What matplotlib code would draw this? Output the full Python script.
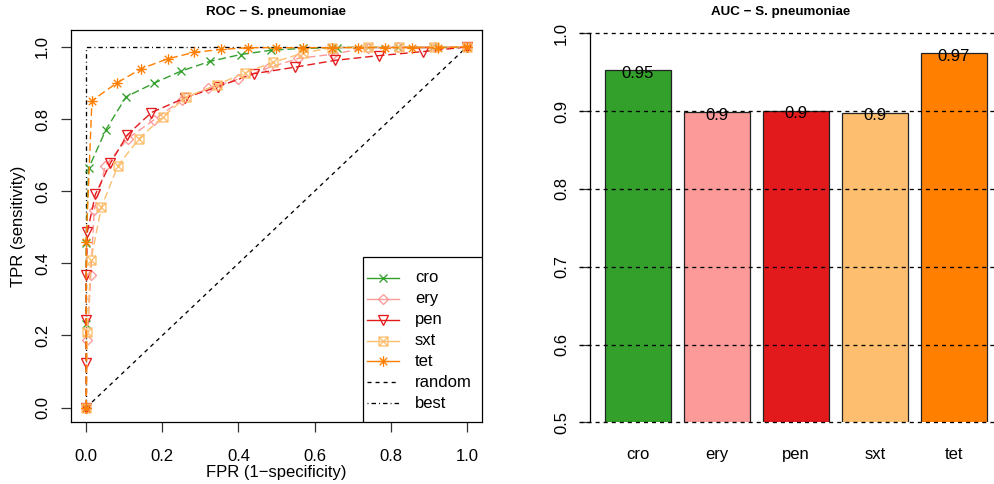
import matplotlib
matplotlib.use("Agg")
import matplotlib.pyplot as plt
from matplotlib.path import Path
from matplotlib.lines import Line2D
from matplotlib.patches import Rectangle

plt.rcParams['font.family'] = ['Liberation Sans', 'DejaVu Sans']
plt.rcParams['lines.scale_dashes'] = False

# ---------------- data ----------------
drugs = ["cro", "ery", "pen", "sxt", "tet"]
colors = ["#33A02C", "#FB9A99", "#E31A1C", "#FDBF6F", "#FF7F00"]

cro_fpr = [0, 0, 0, 0.006, 0.052, 0.105, 0.177, 0.249, 0.325, 0.406, 0.486, 0.57, 0.66, 0.74, 0.82, 0.91, 1.0]
cro_tpr = [0, 0.233, 0.455, 0.663, 0.771, 0.862, 0.899, 0.933, 0.960, 0.979, 0.991, 0.996, 0.998, 1.0, 1.0, 1.0, 1.0]

ery_fpr = [0, 0.003, 0.012, 0.021, 0.05, 0.109, 0.177, 0.251, 0.321, 0.40, 0.478, 0.557, 0.648, 0.741, 0.819, 0.916, 1.0]
ery_tpr = [0, 0.188, 0.369, 0.547, 0.669, 0.746, 0.797, 0.853, 0.885, 0.911, 0.942, 0.968, 0.980, 0.998, 0.999, 1.0, 1.0]

pen_fpr = [0, 0, 0, 0, 0.003, 0.024, 0.063, 0.108, 0.171, 0.260, 0.347, 0.441, 0.549, 0.655, 0.770, 0.884, 1.0]
pen_tpr = [0, 0.123, 0.244, 0.369, 0.487, 0.591, 0.677, 0.756, 0.818, 0.859, 0.890, 0.926, 0.944, 0.963, 0.976, 0.987, 1.0]

sxt_fpr = [0, 0.003, 0.012, 0.04, 0.083, 0.139, 0.201, 0.263, 0.343, 0.416, 0.490, 0.569, 0.646, 0.74, 0.823, 0.915, 1.0]
sxt_tpr = [0, 0.209, 0.408, 0.556, 0.670, 0.746, 0.806, 0.861, 0.895, 0.928, 0.957, 0.983, 0.998, 1.0, 1.0, 1.0, 1.0]

tet_fpr = [0, 0, 0.015, 0.08, 0.145, 0.214, 0.283, 0.354, 0.426, 0.498, 0.570, 0.645, 0.714, 0.784, 0.857, 0.924, 1.0]
tet_tpr = [0, 0.46, 0.851, 0.90, 0.94, 0.967, 0.985, 0.993, 0.998, 0.998, 0.998, 0.998, 0.998, 0.998, 0.998, 0.998, 1.0]

auc_values = [0.9528, 0.8985, 0.9005, 0.898, 0.9747]

roc_ticks = [0.0, 0.2, 0.4, 0.6, 0.8, 1.0]
auc_ticks = [0.5, 0.6, 0.7, 0.8, 0.9, 1.0]

# ---------------- markers ----------------
asterisk = Path([(-1, 0), (1, 0), (0, -1), (0, 1),
                 (-0.707, -0.707), (0.707, 0.707), (-0.707, 0.707), (0.707, -0.707)],
                [Path.MOVETO, Path.LINETO] * 4)
boxx = Path([(-1, -1), (1, -1), (1, 1), (-1, 1), (-1, -1),
             (-1, -1), (1, 1), (-1, 1), (1, -1)],
            [Path.MOVETO, Path.LINETO, Path.LINETO, Path.LINETO, Path.LINETO,
             Path.MOVETO, Path.LINETO, Path.MOVETO, Path.LINETO])
markers = ["x", "D", "v", boxx, asterisk]
msizes = [6.2, 5.6, 7.2, 6.4, 7.6]

series = [(cro_fpr, cro_tpr), (ery_fpr, ery_tpr), (pen_fpr, pen_tpr),
          (sxt_fpr, sxt_tpr), (tet_fpr, tet_tpr)]

FS = 12
TFS = 9.6
W, H = 994, 484
fig = plt.figure(figsize=(W / 100, H / 100), dpi=100)

def axrect(l, t, r, b):
    return [l / W, (H - b) / H, (r - l) / W, (b - t) / H]

# ---------------- ROC panel ----------------
ax = fig.add_axes(axrect(71, 30, 482, 422))
ax.set_xlim(-0.04, 1.04)
ax.set_ylim(-0.04, 1.047)

ax.plot([0, 1], [0, 1], color="black", lw=0.95, dashes=(2.9, 2.9), zorder=2)
ax.plot([0, 0, 1], [0, 1, 1], color="black", lw=0.95, dashes=(0.7, 2.2, 3.2, 2.2), zorder=2)

for (fx, ty), c, m, ms in zip(series, colors, markers, msizes):
    ax.plot(fx, ty, color=c, lw=1.0, dashes=(5.6, 2.8), marker=m, ms=ms,
            mfc="none", mec=c, mew=0.95, zorder=3)

for s in ax.spines.values():
    s.set_linewidth(0.9)
ax.set_xticks(roc_ticks)
ax.set_yticks(roc_ticks)
ax.set_xticklabels([f"{v:.1f}" for v in roc_ticks], fontsize=FS)
ax.set_yticklabels([f"{v:.1f}" for v in roc_ticks], fontsize=FS, rotation=90, va="center")
ax.tick_params(axis="x", direction="out", length=7.4, width=0.9, pad=12.1, color="#333333")
ax.tick_params(axis="y", direction="out", length=7.4, width=0.9, pad=7.8, color="#333333")
ax.set_xlabel("FPR (1\u2212specificity)", fontsize=FS, va="center")
ax.xaxis.set_label_coords(0.5, (422 - 472) / 392)
ax.set_ylabel("TPR (sensitivity)", fontsize=FS, va="center")
ax.yaxis.set_label_coords((18 - 71) / 411, 0.5)
ax.set_title("ROC \u2212 S. pneumoniae", fontsize=TFS, fontweight="bold",
             y=1 + 18 / 392, pad=0, va="center")

# legend drawn in axes fraction coordinates
def ax_xy(px, py):
    return (px - 71) / 411, (422 - py) / 392

lx0, ly0 = ax_xy(363, 257)
ax.add_patch(Rectangle((lx0, 0), 1 - lx0, ly0, transform=ax.transAxes,
                       facecolor="white", edgecolor="black", lw=0.9, zorder=5))
leg_labels = drugs + ["random", "best"]
for i, lab in enumerate(leg_labels):
    py = 277.8 + 20.9 * i
    x1, yy = ax_xy(367, py)
    x2, _ = ax_xy(399, py)
    xm, _ = ax_xy(383, py)
    xt, _ = ax_xy(415, py)
    if i < 5:
        ax.add_line(Line2D([x1, x2], [yy, yy], transform=ax.transAxes,
                           color=colors[i], lw=1.0, zorder=6))
        ax.add_line(Line2D([xm], [yy], transform=ax.transAxes, color=colors[i],
                           marker=markers[i], ms=msizes[i], mfc="none",
                           mec=colors[i], mew=0.95, zorder=6))
    elif lab == "random":
        ax.add_line(Line2D([x1, x2], [yy, yy], transform=ax.transAxes,
                           color="black", lw=0.95, dashes=(2.9, 2.9), zorder=6))
    else:
        ax.add_line(Line2D([x1, x2], [yy, yy], transform=ax.transAxes,
                           color="black", lw=0.95, dashes=(0.7, 2.2, 3.2, 2.2), zorder=6))
    ax.text(xt, yy, lab, transform=ax.transAxes, fontsize=FS, va="center",
            ha="left", zorder=7)

# ---------------- AUC panel ----------------
bx = fig.add_axes(axrect(590, 33.3, 990, 422.3))
xpos = [0.7 + 1.2 * i for i in range(len(drugs))]
bx.bar(xpos, auc_values, width=1.0, color=colors, edgecolor="#222222", lw=0.9, zorder=2)
bx.set_xlim(-0.03, 6.05)
bx.set_ylim(0.5, 1.0)
for v in auc_ticks:
    bx.axhline(v, xmin=(579 - 590) / 400, xmax=(994 - 590) / 400, color="black",
               lw=0.95, dashes=(2.9, 2.9), clip_on=False, zorder=3)
for xp, v in zip(xpos, auc_values):
    bx.annotate(f"{round(v, 2):g}", (xp, v), xytext=(0, -5.5), textcoords="offset points",
                ha="center", va="baseline", fontsize=FS, zorder=4)

for k in ["top", "right", "bottom"]:
    bx.spines[k].set_visible(False)
bx.spines["left"].set_linewidth(0.9)
bx.set_yticks(auc_ticks)
bx.set_yticklabels([f"{v:.1f}" for v in auc_ticks], fontsize=FS, rotation=90, va="center")
bx.tick_params(axis="y", direction="out", length=7.4, width=0.9, pad=7.6, color="#333333")
bx.set_xticks(xpos)
bx.set_xticklabels(drugs, fontsize=FS)
bx.tick_params(axis="x", length=0, pad=17.5)
bx.set_title("AUC \u2212 S. pneumoniae", fontsize=TFS, fontweight="bold",
             x=0.4775, y=1 + 21.3 / 389, pad=0, va="center")

fig.savefig("out.png", dpi=100)
